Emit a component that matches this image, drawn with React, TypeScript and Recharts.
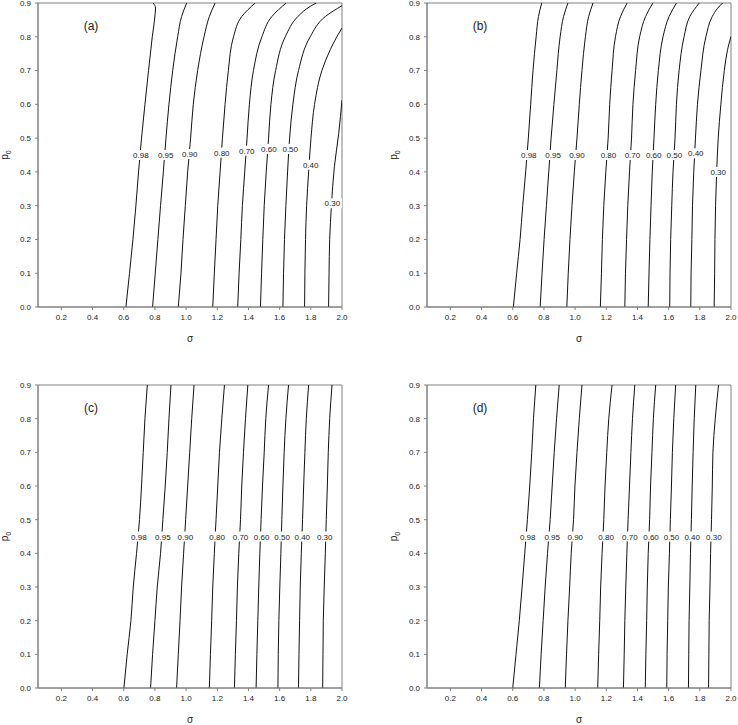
import { ComposedChart, Line, Scatter, XAxis, YAxis, ReferenceArea, ReferenceDot } from "recharts";

const levelNames = ["0.98", "0.95", "0.90", "0.80", "0.70", "0.60", "0.50", "0.40", "0.30"];
const sigmaTicks = [0.2, 0.4, 0.6, 0.8, 1.0, 1.2, 1.4, 1.6, 1.8, 2.0];
const pTicks = [0, 0.1, 0.2, 0.3, 0.4, 0.5, 0.6, 0.7, 0.8, 0.9];
const pGrid = [0, 0.1, 0.2, 0.3, 0.4, 0.5, 0.6, 0.7, 0.8, 0.9];
const pTop = [0, 0.1, 0.2, 0.3, 0.4, 0.5, 0.6, 0.7, 0.8, 0.86, 0.9];

// panel (a)
const aP = [
  [0, 0.1, 0.2, 0.3, 0.4, 0.5, 0.6, 0.7, 0.8, 0.87, 0.885, 0.9],
  pTop,
  pTop,
  pTop,
  pTop,
  [0, 0.1, 0.2, 0.3, 0.4, 0.5, 0.6, 0.7, 0.8, 0.86, 0.89, 0.9],
  [0, 0.1, 0.2, 0.3, 0.4, 0.5, 0.6, 0.7, 0.8, 0.86, 0.892],
  [0, 0.1, 0.2, 0.3, 0.4, 0.5, 0.6, 0.7, 0.762, 0.801, 0.826],
  [0, 0.1, 0.2, 0.3, 0.415, 0.514, 0.613],
];
const aSigma = [
  [0.614, 0.637, 0.659, 0.678, 0.695, 0.714, 0.736, 0.759, 0.783, 0.802, 0.804, 0.789],
  [0.785, 0.802, 0.819, 0.836, 0.854, 0.871, 0.89, 0.914, 0.946, 0.971, 1.004],
  [0.95, 0.967, 0.98, 0.995, 1.01, 1.029, 1.046, 1.074, 1.115, 1.149, 1.186],
  [1.171, 1.181, 1.192, 1.203, 1.218, 1.233, 1.25, 1.271, 1.304, 1.357, 1.443],
  [1.331, 1.34, 1.351, 1.361, 1.376, 1.391, 1.406, 1.432, 1.486, 1.55, 1.642],
  [1.477, 1.484, 1.492, 1.501, 1.514, 1.529, 1.544, 1.574, 1.636, 1.717, 1.796, 1.835],
  [1.621, 1.625, 1.631, 1.64, 1.651, 1.664, 1.685, 1.721, 1.796, 1.893, 2.0],
  [1.76, 1.762, 1.766, 1.773, 1.786, 1.801, 1.824, 1.871, 1.925, 1.968, 2.0],
  [1.914, 1.917, 1.921, 1.932, 1.951, 1.979, 2.0],
];
const aLabelSigma = [0.71, 0.869, 1.023, 1.229, 1.389, 1.531, 1.668, 1.799, 1.938];
const aLabelP = [0.45, 0.45, 0.453, 0.457, 0.463, 0.468, 0.468, 0.421, 0.307];

// panel (b)
const bP = [
  pTop,
  pTop,
  pTop,
  pTop,
  pTop,
  pTop,
  pTop,
  [0, 0.1, 0.2, 0.3, 0.4, 0.5, 0.6, 0.7, 0.8, 0.86, 0.885, 0.9],
  [0, 0.1, 0.2, 0.3, 0.4, 0.5, 0.6, 0.7, 0.762, 0.801],
];
const bSigma = [
  [0.604, 0.625, 0.647, 0.664, 0.683, 0.7, 0.715, 0.73, 0.75, 0.765, 0.786],
  [0.776, 0.788, 0.801, 0.816, 0.831, 0.846, 0.864, 0.883, 0.904, 0.926, 0.954],
  [0.947, 0.956, 0.967, 0.98, 0.995, 1.012, 1.027, 1.044, 1.066, 1.087, 1.115],
  [1.162, 1.169, 1.175, 1.184, 1.197, 1.212, 1.222, 1.237, 1.259, 1.291, 1.334],
  [1.319, 1.323, 1.33, 1.338, 1.349, 1.362, 1.371, 1.388, 1.414, 1.452, 1.499],
  [1.469, 1.474, 1.48, 1.487, 1.495, 1.506, 1.517, 1.534, 1.564, 1.603, 1.65],
  [1.607, 1.609, 1.613, 1.62, 1.628, 1.641, 1.65, 1.667, 1.699, 1.736, 1.796],
  [1.742, 1.744, 1.749, 1.753, 1.761, 1.772, 1.785, 1.807, 1.839, 1.88, 1.915, 1.946],
  [1.892, 1.895, 1.897, 1.901, 1.908, 1.918, 1.935, 1.957, 1.978, 2.0],
];
const bLabelSigma = [0.703, 0.859, 1.012, 1.214, 1.368, 1.504, 1.637, 1.774, 1.918];
const bLabelP = [0.45, 0.45, 0.45, 0.45, 0.45, 0.45, 0.45, 0.455, 0.4];

// panel (c)
const cSigma = [
  [0.601, 0.622, 0.646, 0.661, 0.682, 0.701, 0.714, 0.725, 0.736, 0.751],
  [0.772, 0.785, 0.8, 0.815, 0.836, 0.851, 0.866, 0.879, 0.89, 0.903],
  [0.939, 0.95, 0.961, 0.971, 0.984, 0.997, 1.01, 1.023, 1.036, 1.051],
  [1.149, 1.156, 1.164, 1.171, 1.181, 1.192, 1.203, 1.214, 1.229, 1.246],
  [1.31, 1.316, 1.323, 1.329, 1.338, 1.349, 1.357, 1.368, 1.381, 1.396],
  [1.449, 1.454, 1.46, 1.466, 1.473, 1.481, 1.49, 1.501, 1.511, 1.529],
  [1.589, 1.591, 1.595, 1.601, 1.608, 1.614, 1.621, 1.629, 1.64, 1.657],
  [1.721, 1.724, 1.728, 1.732, 1.739, 1.747, 1.754, 1.762, 1.771, 1.786],
  [1.876, 1.878, 1.88, 1.886, 1.893, 1.899, 1.906, 1.912, 1.921, 1.936],
];
const cLabelSigma = [0.697, 0.851, 0.995, 1.199, 1.349, 1.484, 1.616, 1.745, 1.889];
const cLabelP = [0.45, 0.45, 0.45, 0.45, 0.45, 0.45, 0.45, 0.45, 0.45];

// panel (d)
const dSigma = [
  [0.6, 0.621, 0.642, 0.66, 0.677, 0.694, 0.709, 0.722, 0.733, 0.748],
  [0.771, 0.782, 0.795, 0.808, 0.823, 0.84, 0.853, 0.866, 0.881, 0.898],
  [0.937, 0.945, 0.954, 0.965, 0.975, 0.99, 0.999, 1.012, 1.027, 1.044],
  [1.145, 1.151, 1.158, 1.164, 1.173, 1.184, 1.192, 1.203, 1.216, 1.237],
  [1.31, 1.315, 1.319, 1.325, 1.332, 1.34, 1.349, 1.358, 1.368, 1.383],
  [1.45, 1.454, 1.459, 1.463, 1.469, 1.478, 1.484, 1.493, 1.502, 1.517],
  [1.588, 1.59, 1.594, 1.598, 1.605, 1.611, 1.618, 1.624, 1.633, 1.645],
  [1.727, 1.729, 1.731, 1.736, 1.74, 1.746, 1.751, 1.757, 1.764, 1.774],
  [1.856, 1.858, 1.86, 1.865, 1.869, 1.875, 1.88, 1.884, 1.899, 1.92],
];
const dLabelSigma = [0.696, 0.853, 1.001, 1.199, 1.351, 1.487, 1.618, 1.751, 1.89];
const dLabelP = [0.45, 0.45, 0.45, 0.45, 0.45, 0.45, 0.45, 0.45, 0.45];

const FONT = '"Liberation Sans", Arial, sans-serif';
const AXIS = "#808080";
const INK = "#222";

function ContourLabel(props: any) {
  const { cx, cy, payload } = props;
  if (cx == null || cy == null) return null;
  return (
    <g>
      <rect x={cx - 9.5} y={cy - 5} width={19} height={10} fill="#fff" />
      <text x={cx} y={cy + 3} textAnchor="middle" fontSize={8} fill={INK} fontFamily={FONT}>
        {payload.t}
      </text>
    </g>
  );
}

function SigmaLabel(props: any) {
  const { x, y, width } = props.viewBox;
  return (
    <text x={x + width / 2} y={y + 35} textAnchor="middle" fontSize={10} fill={INK} fontFamily={FONT}>
      σ
    </text>
  );
}

function PLabel(props: any) {
  const { x, y, width, height } = props.viewBox;
  const cx = x + width - 30;
  const cy = y + height / 2;
  return (
    <text
      x={cx}
      y={cy}
      transform={`rotate(-90 ${cx} ${cy})`}
      textAnchor="middle"
      fontSize={10}
      fill={INK}
      fontFamily={FONT}
    >
      p<tspan dy={3} fontSize={7}>0</tspan>
    </text>
  );
}

type PanelProps = {
  tag: string;
  ps: number[][];
  sigmas: number[][];
  labS: number[];
  labP: number[];
  left: number;
  top: number;
  height: number;
  yWidth: number;
  mRight: number;
  mTop: number;
  xHeight: number;
};

function Panel({ tag, ps, sigmas, labS, labP, left, top, height, yWidth, mRight, mTop, xHeight }: PanelProps) {
  const labels = levelNames.map((t, i) => ({ x: labS[i], y: labP[i], t }));
  return (
    <div style={{ position: "absolute", left, top }}>
      <ComposedChart width={369} height={height} margin={{ top: mTop, right: mRight, left: 0, bottom: 0 }}>
        <XAxis
          type="number"
          dataKey="x"
          domain={[0.05, 2.0]}
          ticks={sigmaTicks}
          interval={0}
          allowDataOverflow
          height={xHeight}
          tickSize={3}
          tickMargin={4}
          axisLine={{ stroke: AXIS }}
          tickLine={{ stroke: AXIS }}
          tick={{ fontSize: 8, fill: INK, fontFamily: FONT }}
          tickFormatter={(v: number) => v.toFixed(1)}
          label={<SigmaLabel />}
        />
        <YAxis
          type="number"
          dataKey="y"
          domain={[0, 0.9]}
          ticks={pTicks}
          interval={0}
          allowDataOverflow
          width={yWidth}
          tickSize={3}
          tickMargin={4}
          axisLine={{ stroke: AXIS }}
          tickLine={{ stroke: AXIS }}
          tick={{ fontSize: 8, fill: INK, fontFamily: FONT }}
          tickFormatter={(v: number) => v.toFixed(1)}
          label={<PLabel />}
        />
        <ReferenceArea x1={0.05} x2={2.0} y1={0} y2={0.9} fill="none" stroke={AXIS} />
        {sigmas.map((s, i) => (
          <Line
            key={levelNames[i]}
            data={s.map((x, j) => ({ x, y: ps[i][j] }))}
            dataKey="y"
            type="monotoneY"
            stroke="#111"
            strokeWidth={1}
            dot={false}
            activeDot={false}
            isAnimationActive={false}
          />
        ))}
        <Scatter data={labels} shape={<ContourLabel />} isAnimationActive={false} />
        <ReferenceDot
          x={0.39}
          y={0.832}
          r={0}
          shape={(p: any) => (
            <text x={p.cx} y={p.cy + 4} textAnchor="middle" fontSize={12} fill={INK} fontFamily={FONT}>
              {tag}
            </text>
          )}
        />
      </ComposedChart>
    </div>
  );
}

const cP = levelNames.map(() => pGrid);

export default function App() {
  return (
    <div style={{ position: "absolute", left: 0, top: 0, width: 738, height: 725, background: "#fff" }}>
      <Panel tag="(a)" ps={aP} sigmas={aSigma} labS={aLabelSigma} labP={aLabelP}
        left={0} top={0} height={362} yWidth={38} mRight={27} mTop={3} xHeight={55} />
      <Panel tag="(b)" ps={bP} sigmas={bSigma} labS={bLabelSigma} labP={bLabelP}
        left={369} top={0} height={362} yWidth={58} mRight={7} mTop={3} xHeight={55} />
      <Panel tag="(c)" ps={cP} sigmas={cSigma} labS={cLabelSigma} labP={cLabelP}
        left={0} top={362} height={363} yWidth={38} mRight={27} mTop={23} xHeight={37} />
      <Panel tag="(d)" ps={cP} sigmas={dSigma} labS={dLabelSigma} labP={dLabelP}
        left={369} top={362} height={363} yWidth={58} mRight={7} mTop={23} xHeight={37} />
    </div>
  );
}
